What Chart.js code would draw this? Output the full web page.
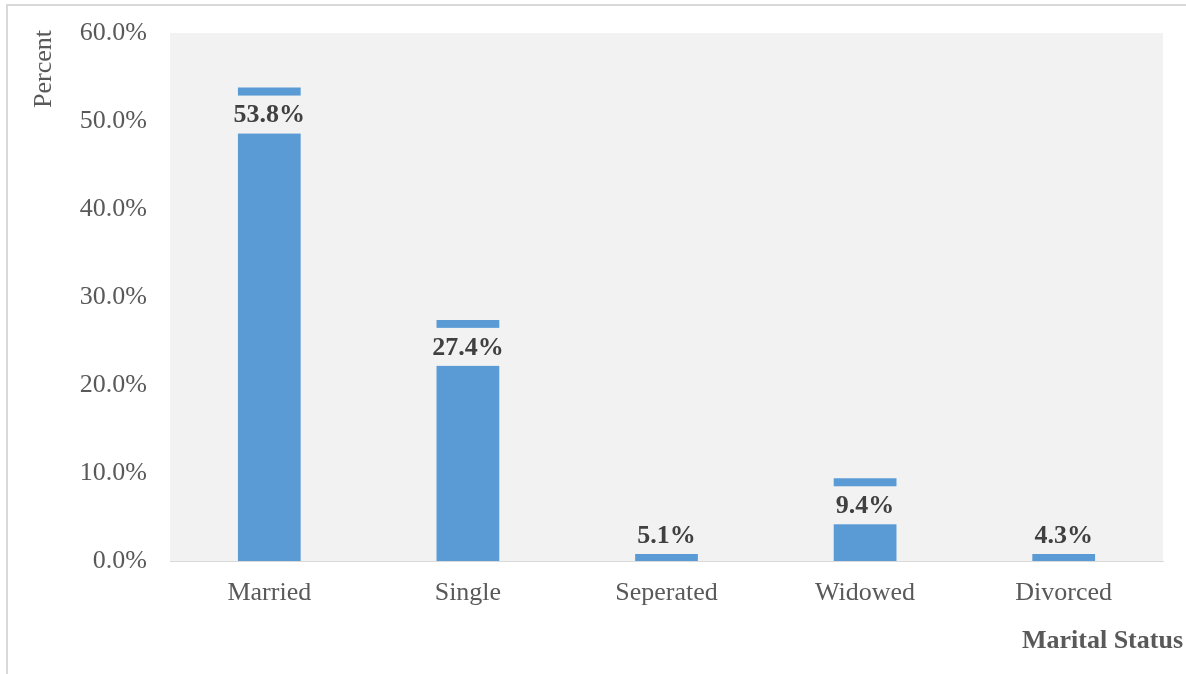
<!DOCTYPE html>
<html>
<head>
<meta charset="utf-8">
<title>Marital Status</title>
<script src="https://cdn.jsdelivr.net/npm/chart.js@4/dist/chart.umd.min.js"></script>
<style>
  html, body { margin: 0; padding: 0; background: #ffffff; }
  #wrap { width: 1186px; height: 674px; position: relative; }
</style>
</head>
<body>
<div id="wrap"><canvas id="chart" width="1186" height="674"></canvas></div>
<script>
// Share of respondents by marital status (percent)
const categories = ['Married', 'Single', 'Seperated', 'Widowed', 'Divorced'];
const percentValues = [53.8, 27.4, 5.1, 9.4, 4.3];
const yTicks = [0, 10, 20, 30, 40, 50, 60];

const xTitle = 'Marital Status';
const yTitle = 'Percent';

const SERIF = '"Liberation Serif", "Times New Roman", serif';
const TEXT_GREY = '#595959';
const LABEL_DARK = '#404040';
const PLOT_BG = '#f2f2f2';
const FONT_SIZE = 26;

// Fills the plot area and draws the frame lines around the figure
const backdrop = {
  id: 'backdrop',
  beforeDraw(chart) {
    const { ctx, chartArea: a } = chart;
    ctx.save();
    ctx.fillStyle = PLOT_BG;
    ctx.fillRect(a.left, a.top, a.right - a.left, a.bottom - a.top);
    ctx.strokeStyle = '#d9d9d9';
    ctx.lineWidth = 2;
    ctx.beginPath();
    ctx.moveTo(7, 674);
    ctx.lineTo(7, 5);
    ctx.lineTo(1186, 5);
    ctx.stroke();
    ctx.restore();
  }
};

// Value labels sitting in a plot-coloured box just under each bar top
const valueLabels = {
  id: 'valueLabels',
  afterDatasetsDraw(chart) {
    const { ctx } = chart;
    const meta = chart.getDatasetMeta(0);
    const data = chart.data.datasets[0].data;
    ctx.save();
    ctx.font = 'bold ' + FONT_SIZE + 'px ' + SERIF;
    ctx.textAlign = 'center';
    ctx.textBaseline = 'middle';
    meta.data.forEach((bar, i) => {
      const h = 38;
      let top = bar.y + 8;
      let bottom = top + h;
      const limit = bar.base - 7;
      if (bottom > limit) { bottom = limit; top = bottom - h; }
      const w = bar.width + 2;
      ctx.fillStyle = PLOT_BG;
      ctx.fillRect(bar.x - w / 2, top, w, h);
      ctx.fillStyle = LABEL_DARK;
      ctx.fillText(data[i].toFixed(1) + '%', bar.x, (top + bottom) / 2 + 1);
    });
    ctx.restore();
  }
};

// Axis titles: x title at the right end, y title near the top
const axisTitles = {
  id: 'axisTitles',
  afterDraw(chart) {
    const { ctx } = chart;
    ctx.save();
    ctx.fillStyle = TEXT_GREY;
    ctx.font = 'bold ' + FONT_SIZE + 'px ' + SERIF;
    ctx.textAlign = 'right';
    ctx.textBaseline = 'middle';
    ctx.fillText(xTitle, 1183, 641);
    ctx.translate(44, 69);
    ctx.rotate(-Math.PI / 2);
    ctx.font = FONT_SIZE + 'px ' + SERIF;
    ctx.textAlign = 'center';
    ctx.fillText(yTitle, 0, 0);
    ctx.restore();
  }
};

new Chart(document.getElementById('chart'), {
  type: 'bar',
  data: {
    labels: categories,
    datasets: [{
      data: percentValues,
      backgroundColor: '#5b9bd5',
      borderWidth: 0,
      barPercentage: 0.316,
      categoryPercentage: 1
    }]
  },
  options: {
    responsive: false,
    animation: false,
    devicePixelRatio: 1,
    layout: { padding: { left: 0, top: 33, right: 23, bottom: 0 } },
    plugins: {
      legend: { display: false },
      tooltip: { enabled: false }
    },
    scales: {
      x: {
        grid: { display: false, drawTicks: false },
        border: { display: true, color: '#d9d9d9', width: 1 },
        ticks: {
          color: TEXT_GREY,
          font: { family: SERIF, size: FONT_SIZE },
          padding: 17,
          maxRotation: 0
        },
        afterFit(scale) {
          scale.height = 113;
          scale.paddingLeft = 0;
          scale.paddingRight = 0;
        }
      },
      y: {
        min: 0,
        max: 60,
        grid: { display: false, drawTicks: false },
        border: { display: false },
        afterBuildTicks(scale) { scale.ticks = yTicks.map(v => ({ value: v })); },
        ticks: {
          color: TEXT_GREY,
          font: { family: SERIF, size: FONT_SIZE },
          padding: 23,
          callback: v => v.toFixed(1) + '%'
        },
        afterFit(scale) {
          scale.width = 170;
          scale.paddingTop = 0;
          scale.paddingBottom = 0;
        }
      }
    }
  },
  plugins: [backdrop, valueLabels, axisTitles]
});
</script>
</body>
</html>
